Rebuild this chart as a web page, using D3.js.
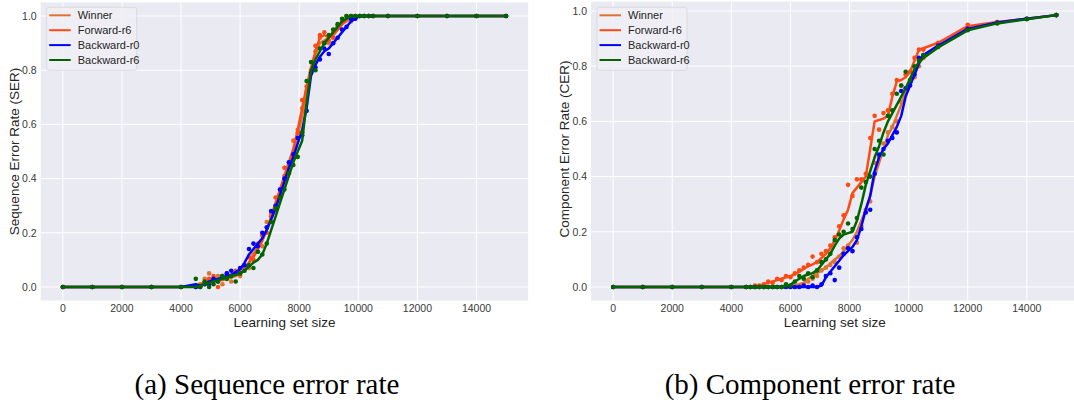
<!DOCTYPE html>
<html>
<head>
<meta charset="utf-8">
<script src="https://cdn.jsdelivr.net/npm/d3@7"></script>
<style>
  body { margin: 0; background: #fff; }
  svg { display: block; font-family: "Liberation Sans", Arial, sans-serif; }
  .tick-label { font-size: 10.5px; fill: #3a3a3a; }
  .axis-title { font-size: 13.5px; fill: #262626; }
  .legend-text { font-size: 11px; fill: #262626; }
  .caption { font-family: "Liberation Serif", "Times New Roman", serif; font-size: 29px; fill: #000; }
</style>
</head>
<body>
<script>
(function(){

//pseudo-global variables
var seriesNames = ["Winner", "Forward-r6", "Backward-r0", "Backward-r6"];
var seriesColors = ["#e0742e", "#ff4a14", "#0000ff", "#006400"];

var xTicks = [0, 2000, 4000, 6000, 8000, 10000, 12000, 14000];
var yTicks = [0.0, 0.2, 0.4, 0.6, 0.8, 1.0];

//learning set sizes, shared by every series
var sizes = [0, 1000, 2000, 3000, 4000,
    4500, 4650, 4800, 4950, 5100, 5250, 5400, 5550, 5700, 5850,
    6000, 6150, 6300, 6450, 6600, 6750, 6900, 7050, 7200, 7350,
    7500, 7650, 7800, 7950, 8100, 8250, 8400, 8550, 8700, 8850,
    9000, 9150, 9300, 9450, 9600, 9750, 9900, 10050, 10200, 10350,
    10500, 11000, 12000, 13000, 14000, 15000];

//(a) sequence error rate - points and smoothed lines
var serWinnerPts = [0, 0, 0, 0, 0,
    0, 0.01, 0.03, 0.05, 0.02, 0.04, 0.01, 0.03, 0.02, 0.05,
    0.04, 0.08, 0.07, 0.12, 0.16, 0.15, 0.24, 0.27, 0.28, 0.36,
    0.41, 0.43, 0.54, 0.58, 0.66, 0.72, 0.79, 0.87, 0.92, 0.90,
    0.90, 0.94, 0.96, 0.95, 0.99, 0.98, 1, 1, 1, 1,
    1, 1, 1, 1, 1, 1];
var serWinnerLine = [0, 0, 0, 0, 0,
    0.005, 0.01, 0.02, 0.03, 0.03, 0.03, 0.025, 0.03, 0.035, 0.04,
    0.05, 0.065, 0.09, 0.12, 0.15, 0.18, 0.21, 0.25, 0.29, 0.34,
    0.39, 0.44, 0.50, 0.56, 0.63, 0.72, 0.80, 0.86, 0.90, 0.91,
    0.92, 0.93, 0.95, 0.97, 0.98, 0.99, 1, 1, 1, 1,
    1, 1, 1, 1, 1, 1];
var serForwardPts = [0, 0, 0, 0, 0,
    0, 0.005, 0.01, 0.03, 0.04, 0, 0.03, 0.05, 0.04, 0.06,
    0.05, 0.07, 0.11, 0.10, 0.13, 0.19, 0.20, 0.26, 0.33, 0.34,
    0.44, 0.45, 0.49, 0.57, 0.69, 0.74, 0.80, 0.89, 0.93, 0.94,
    0.91, 0.92, 0.96, 0.98, 1, 1, 1, 1, 1, 1,
    1, 1, 1, 1, 1, 1];
var serForwardLine = [0, 0, 0, 0, 0,
    0.003, 0.008, 0.015, 0.025, 0.03, 0.028, 0.03, 0.035, 0.04, 0.045,
    0.05, 0.065, 0.09, 0.11, 0.14, 0.17, 0.21, 0.26, 0.31, 0.36,
    0.41, 0.46, 0.51, 0.58, 0.66, 0.74, 0.81, 0.87, 0.92, 0.93,
    0.92, 0.93, 0.95, 0.97, 0.99, 1, 1, 1, 1, 1,
    1, 1, 1, 1, 1, 1];
var serBackR0Pts = [0, 0, 0, 0, 0,
    0, 0, 0.01, 0.01, 0.03, 0.02, 0.04, 0.05, 0.06, 0.05,
    0.07, 0.08, 0.14, 0.16, 0.15, 0.20, 0.22, 0.28, 0.30, 0.36,
    0.40, 0.46, 0.49, 0.55, 0.56, 0.65, 0.79, 0.81, 0.84, 0.88,
    0.86, 0.90, 0.92, 0.95, 0.96, 0.99, 0.99, 1, 1, 1,
    1, 1, 1, 1, 1, 1];
var serBackR0Line = [0, 0, 0, 0, 0,
    0.01, 0.005, 0.01, 0.02, 0.025, 0.03, 0.035, 0.04, 0.045, 0.055,
    0.065, 0.09, 0.12, 0.14, 0.16, 0.18, 0.21, 0.25, 0.29, 0.34,
    0.39, 0.44, 0.48, 0.53, 0.58, 0.66, 0.78, 0.82, 0.85, 0.87,
    0.88, 0.90, 0.92, 0.94, 0.96, 0.98, 0.99, 1, 1, 1,
    1, 1, 1, 1, 1, 1];
var serBackR6Pts = [0, 0, 0, 0, 0,
    0.03, 0, 0.02, 0, 0.01, 0.02, 0.04, 0.03, 0.04, 0.02,
    0.05, 0.06, 0.08, 0.07, 0.13, 0.12, 0.16, 0.24, 0.29, 0.33,
    0.36, 0.42, 0.45, 0.48, 0.57, 0.76, 0.83, 0.80, 0.88, 0.90,
    0.93, 0.95, 0.97, 0.99, 1, 1, 1, 1, 1, 1,
    1, 1, 1, 1, 1, 1];
var serBackR6Line = [0, 0, 0, 0, 0,
    0, 0.005, 0.01, 0.015, 0.02, 0.025, 0.03, 0.035, 0.04, 0.045,
    0.05, 0.06, 0.075, 0.09, 0.10, 0.12, 0.16, 0.21, 0.26, 0.31,
    0.36, 0.41, 0.46, 0.50, 0.54, 0.68, 0.80, 0.84, 0.87, 0.90,
    0.92, 0.94, 0.96, 0.98, 0.99, 1, 1, 1, 1, 1,
    1, 1, 1, 1, 1, 1];

//(b) component error rate - points and smoothed lines
var cerWinnerPts = [0, 0, 0, 0, 0,
    0, 0, 0, 0, 0, 0, 0, 0, 0, 0,
    0, 0, 0.005, 0.01, 0.02, 0.03, 0.04, 0.06, 0.07, 0.08,
    0.09, 0.11, 0.14, 0.15, 0.13, 0.16, 0.22, 0.28, 0.31, 0.45,
    0.47, 0.52, 0.56, 0.58, 0.60, 0.67, 0.72, 0.74, 0.76, 0.80,
    0.83, 0.87, 0.935, 0.957, 0.972, 0.985];
var cerWinnerLine = [0, 0, 0, 0, 0,
    0, 0, 0, 0, 0, 0, 0, 0, 0, 0.002,
    0.004, 0.007, 0.01, 0.015, 0.03, 0.04, 0.05, 0.06, 0.07, 0.085,
    0.10, 0.11, 0.13, 0.15, 0.17, 0.20, 0.24, 0.28, 0.33, 0.40,
    0.45, 0.50, 0.55, 0.58, 0.62, 0.66, 0.71, 0.74, 0.77, 0.81,
    0.83, 0.87, 0.935, 0.957, 0.972, 0.985];
var cerForwardPts = [0, 0, 0, 0, 0,
    0, 0, 0.005, 0.005, 0.01, 0.02, 0.015, 0.03, 0.025, 0.04,
    0.035, 0.05, 0.06, 0.07, 0.08, 0.11, 0.09, 0.12, 0.13, 0.15,
    0.18, 0.22, 0.26, 0.37, 0.33, 0.39, 0.39, 0.41, 0.54, 0.62,
    0.57, 0.63, 0.64, 0.70, 0.75, 0.73, 0.77, 0.78, 0.83, 0.86,
    0.86, 0.885, 0.95, 0.96, 0.972, 0.985];
var cerForwardLine = [0, 0, 0, 0, 0,
    0, 0, 0.002, 0.005, 0.01, 0.015, 0.02, 0.025, 0.03, 0.035,
    0.04, 0.045, 0.055, 0.065, 0.075, 0.082, 0.09, 0.105, 0.12, 0.14,
    0.17, 0.205, 0.245, 0.28, 0.34, 0.36, 0.38, 0.40, 0.50, 0.60,
    0.605, 0.61, 0.62, 0.69, 0.745, 0.75, 0.76, 0.78, 0.82, 0.86,
    0.865, 0.885, 0.945, 0.96, 0.972, 0.985];
var cerBackR0Pts = [0, 0, 0, 0, 0,
    0, 0, 0, 0, 0, 0, 0, 0, 0, 0,
    0, 0, 0, 0.005, 0, 0.005, 0, 0.01, 0.04, 0.05,
    0.025, 0.07, 0.12, 0.14, 0.13, 0.18, 0.21, 0.27, 0.28, 0.41,
    0.48, 0.50, 0.53, 0.54, 0.56, 0.71, 0.72, 0.73, 0.77, 0.83,
    0.84, 0.875, 0.935, 0.958, 0.972, 0.985];
var cerBackR0Line = [0, 0, 0, 0, 0,
    0, 0, 0, 0, 0, 0, 0, 0, 0, 0,
    0, 0, 0, 0, 0, 0, 0, 0.005, 0.035, 0.055,
    0.075, 0.095, 0.115, 0.13, 0.145, 0.17, 0.22, 0.28, 0.33, 0.42,
    0.47, 0.50, 0.52, 0.55, 0.58, 0.62, 0.69, 0.73, 0.77, 0.81,
    0.84, 0.875, 0.935, 0.958, 0.972, 0.985];
var cerBackR6Pts = [0, 0, 0, 0, 0,
    0, 0, 0, 0, 0, 0, 0, 0, 0, 0.01,
    0.005, 0.02, 0.04, 0.03, 0.05, 0.035, 0.06, 0.09, 0.10, 0.12,
    0.17, 0.19, 0.20, 0.23, 0.21, 0.25, 0.36, 0.38, 0.40, 0.50,
    0.53, 0.48, 0.62, 0.64, 0.70, 0.73, 0.78, 0.75, 0.80, 0.82,
    0.84, 0.87, 0.93, 0.955, 0.97, 0.985];
var cerBackR6Line = [0, 0, 0, 0, 0,
    0, 0, 0, 0, 0, 0, 0, 0, 0, 0.003,
    0.008, 0.02, 0.03, 0.04, 0.045, 0.05, 0.06, 0.08, 0.10, 0.12,
    0.15, 0.175, 0.19, 0.195, 0.20, 0.24, 0.30, 0.37, 0.42, 0.47,
    0.51, 0.56, 0.60, 0.63, 0.66, 0.69, 0.72, 0.755, 0.79, 0.815,
    0.83, 0.868, 0.93, 0.955, 0.97, 0.985];

window.onload = drawFigure();

function drawFigure(){
    var svg = d3.select("body")
        .append("svg")
        .attr("width", 1074)
        .attr("height", 406);

    var serPanel = {
        left: 40.7, top: 2.5, width: 487.5, height: 298,
        yDomain: [-0.05, 1.05], yLabel: "Sequence Error Rate (SER)", yLabelX: 14,
        caption: "(a) Sequence error rate", captionX: 267,
        series: [[serWinnerPts, serWinnerLine], [serForwardPts, serForwardLine],
                 [serBackR0Pts, serBackR0Line], [serBackR6Pts, serBackR6Line]]
    };
    var cerPanel = {
        left: 591, top: 1.6, width: 487.5, height: 298.9,
        yDomain: [-0.049, 1.034], yLabel: "Component Error Rate (CER)", yLabelX: 564,
        caption: "(b) Component error rate", captionX: 810,
        series: [[cerWinnerPts, cerWinnerLine], [cerForwardPts, cerForwardLine],
                 [cerBackR0Pts, cerBackR0Line], [cerBackR6Pts, cerBackR6Line]]
    };

    drawPanel(svg, serPanel);
    drawPanel(svg, cerPanel);
};

function drawPanel(svg, p){
    var x = d3.scaleLinear().domain([-750, 15750]).range([p.left, p.left + p.width]);
    var y = d3.scaleLinear().domain(p.yDomain).range([p.top + p.height, p.top]);

    var g = svg.append("g");

    //darkgrid background
    g.append("rect")
        .attr("x", p.left).attr("y", p.top)
        .attr("width", p.width).attr("height", p.height)
        .attr("fill", "#eaeaf2");

    g.selectAll(".vgrid").data(xTicks).enter().append("line")
        .attr("x1", function(d){ return x(d); }).attr("x2", function(d){ return x(d); })
        .attr("y1", p.top).attr("y2", p.top + p.height)
        .attr("stroke", "#fff").attr("stroke-width", 1);
    g.selectAll(".hgrid").data(yTicks).enter().append("line")
        .attr("x1", p.left).attr("x2", p.left + p.width)
        .attr("y1", function(d){ return y(d); }).attr("y2", function(d){ return y(d); })
        .attr("stroke", "#fff").attr("stroke-width", 1);

    //tick labels
    g.selectAll(".xt").data(xTicks).enter().append("text")
        .attr("class", "tick-label")
        .attr("x", function(d){ return x(d); })
        .attr("y", p.top + p.height + 11.5)
        .attr("text-anchor", "middle")
        .text(function(d){ return d; });
    g.selectAll(".yt").data(yTicks).enter().append("text")
        .attr("class", "tick-label")
        .attr("x", p.left - 4)
        .attr("y", function(d){ return y(d) + 3.8; })
        .attr("text-anchor", "end")
        .text(function(d){ return d3.format(".1f")(d); });

    //axis titles
    g.append("text")
        .attr("class", "axis-title")
        .attr("x", x(7500))
        .attr("y", 327)
        .attr("text-anchor", "middle")
        .text("Learning set size");
    g.append("text")
        .attr("class", "axis-title")
        .attr("transform", "translate(" + (p.yLabelX + 4.5) + "," + y(0.5) + ") rotate(-90)")
        .attr("text-anchor", "middle")
        .text(p.yLabel);

    //series: lines and points
    var line = d3.line()
        .x(function(d){ return x(d[0]); })
        .y(function(d){ return y(d[1]); });

    var plot = g.append("g");
    p.series.forEach(function(s, i){
        var pts = sizes.map(function(v, j){ return [v, s[0][j]]; });
        var ln = sizes.map(function(v, j){ return [v, s[1][j]]; });
        plot.append("path")
            .datum(ln)
            .attr("d", line)
            .attr("fill", "none")
            .attr("stroke", seriesColors[i])
            .attr("stroke-width", 2.5)
            .attr("stroke-linejoin", "round");
        plot.selectAll(".pt" + i).data(pts).enter().append("circle")
            .attr("cx", function(d){ return x(d[0]); })
            .attr("cy", function(d){ return y(d[1]); })
            .attr("r", 2.3)
            .attr("fill", seriesColors[i]);
    });

    //legend
    var lx = p.left + 6, ly = 7.3;
    var legend = g.append("g");
    legend.append("rect")
        .attr("x", lx).attr("y", ly)
        .attr("width", 90).attr("height", 63)
        .attr("rx", 2.5)
        .attr("fill", "#eeeef5")
        .attr("fill-opacity", 0.85)
        .attr("stroke", "#d4d4dc")
        .attr("stroke-width", 0.8);
    seriesNames.forEach(function(name, i){
        var cy = ly + 8 + i * 14.9;
        legend.append("line")
            .attr("x1", lx + 2.5).attr("x2", lx + 24)
            .attr("y1", cy).attr("y2", cy)
            .attr("stroke", seriesColors[i])
            .attr("stroke-width", 2);
        legend.append("text")
            .attr("class", "legend-text")
            .attr("x", lx + 31)
            .attr("y", cy + 4)
            .text(name);
    });

    //caption
    svg.append("text")
        .attr("class", "caption")
        .attr("x", p.captionX)
        .attr("y", 394)
        .attr("text-anchor", "middle")
        .text(p.caption);
};

})();
</script>
</body>
</html>
